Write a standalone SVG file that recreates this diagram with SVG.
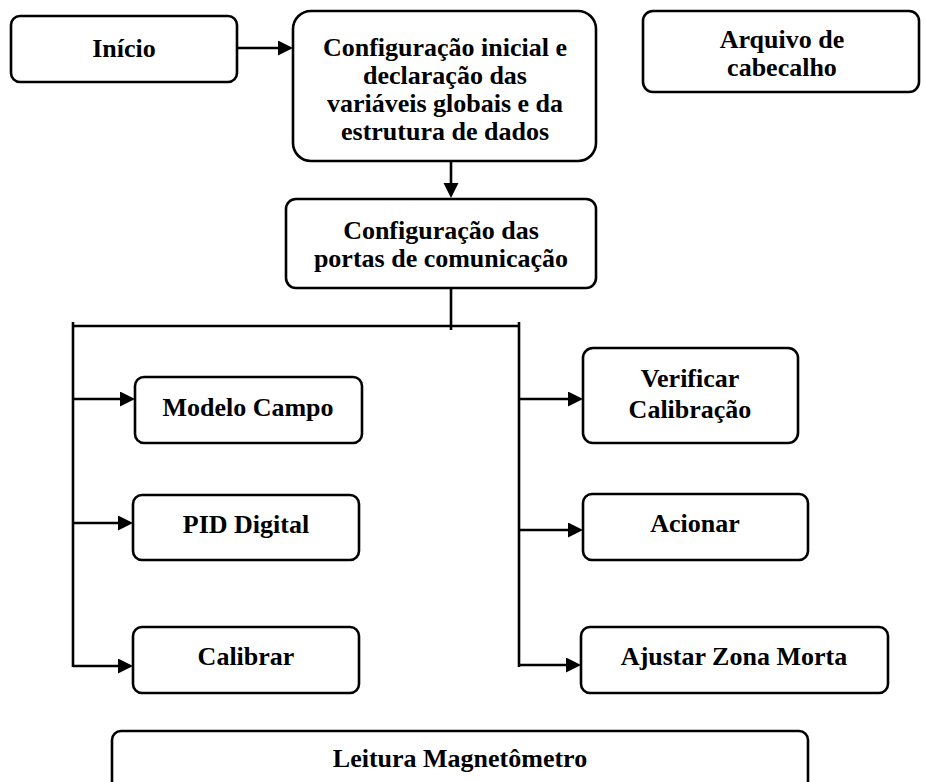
<svg xmlns="http://www.w3.org/2000/svg" width="925" height="782" viewBox="0 0 925 782">
<style>
.box{fill:#fff;stroke:#000;stroke-width:2.6}
.lbl{font-weight:700;font-size:26px;fill:#000;text-anchor:middle}
.ln{fill:none;stroke:#000;stroke-width:2.6}
.ar{fill:none;stroke:#000;stroke-width:2.6;marker-end:url(#ah)}
</style>
<defs>
<marker id="ah" markerUnits="userSpaceOnUse" markerWidth="16" markerHeight="16" refX="2" refY="7.5" orient="auto">
<path d="M0,0 L15,7.5 L0,15 z" fill="#000"/>
</marker>
</defs>
<rect width="925" height="782" fill="#fff"/>
<g id="connectors">
<line class="ar" x1="237" y1="48" x2="280" y2="48"/>
<line class="ar" x1="451" y1="161" x2="451" y2="185"/>
<line class="ln" x1="451" y1="288" x2="451" y2="330"/>
<line class="ln" x1="72" y1="326" x2="520" y2="326"/>
<line class="ln" x1="73" y1="322" x2="73" y2="667"/>
<line class="ln" x1="519" y1="322" x2="519" y2="667"/>
<line class="ar" x1="73" y1="399" x2="122" y2="399"/>
<line class="ar" x1="73" y1="523" x2="120" y2="523"/>
<line class="ar" x1="73" y1="666" x2="120" y2="666"/>
<line class="ar" x1="519" y1="399" x2="570" y2="399"/>
<line class="ar" x1="519" y1="530" x2="570" y2="530"/>
<line class="ar" x1="519" y1="665" x2="568" y2="665"/>
</g>
<g font-family="'Liberation Serif', Tinos, 'Times New Roman', 'DejaVu Serif', serif">
<g id="inicio">
<rect class="box" x="11" y="16" width="226" height="66" rx="9"/>
<text class="lbl" x="124" y="57">Início</text>
</g>
<g id="config-inicial">
<rect class="box" x="293" y="11" width="303" height="150" rx="18"/>
<text class="lbl" x="445" y="56">Configuração inicial e</text>
<text class="lbl" x="445" y="84">declaração das</text>
<text class="lbl" x="445" y="112">variáveis globais e da</text>
<text class="lbl" x="445" y="140">estrutura de dados</text>
</g>
<g id="arquivo">
<rect class="box" x="643" y="11" width="276" height="81" rx="10"/>
<text class="lbl" x="782" y="48">Arquivo de</text>
<text class="lbl" x="782" y="76">cabecalho</text>
</g>
<g id="config-portas">
<rect class="box" x="286" y="199" width="310" height="89" rx="10"/>
<text class="lbl" x="441" y="239">Configuração das</text>
<text class="lbl" x="441" y="267">portas de comunicação</text>
</g>
<g id="modelo-campo">
<rect class="box" x="135" y="377" width="227" height="66" rx="9"/>
<text class="lbl" x="248" y="416">Modelo Campo</text>
</g>
<g id="pid-digital">
<rect class="box" x="133" y="495" width="226" height="65" rx="9"/>
<text class="lbl" x="246" y="533">PID Digital</text>
</g>
<g id="calibrar">
<rect class="box" x="133" y="627" width="226" height="66" rx="9"/>
<text class="lbl" x="246" y="665">Calibrar</text>
</g>
<g id="verificar">
<rect class="box" x="583" y="348" width="215" height="95" rx="10"/>
<text class="lbl" x="690" y="387">Verificar</text>
<text class="lbl" x="690" y="418">Calibração</text>
</g>
<g id="acionar">
<rect class="box" x="583" y="494" width="225" height="66" rx="9"/>
<text class="lbl" x="695" y="532">Acionar</text>
</g>
<g id="ajustar">
<rect class="box" x="581" y="627" width="307" height="66" rx="9"/>
<text class="lbl" x="734" y="665">Ajustar Zona Morta</text>
</g>
<g id="leitura">
<rect class="box" x="112" y="731" width="696" height="60" rx="9"/>
<text class="lbl" x="460" y="767">Leitura Magnetômetro</text>
</g>
</g>
</svg>
